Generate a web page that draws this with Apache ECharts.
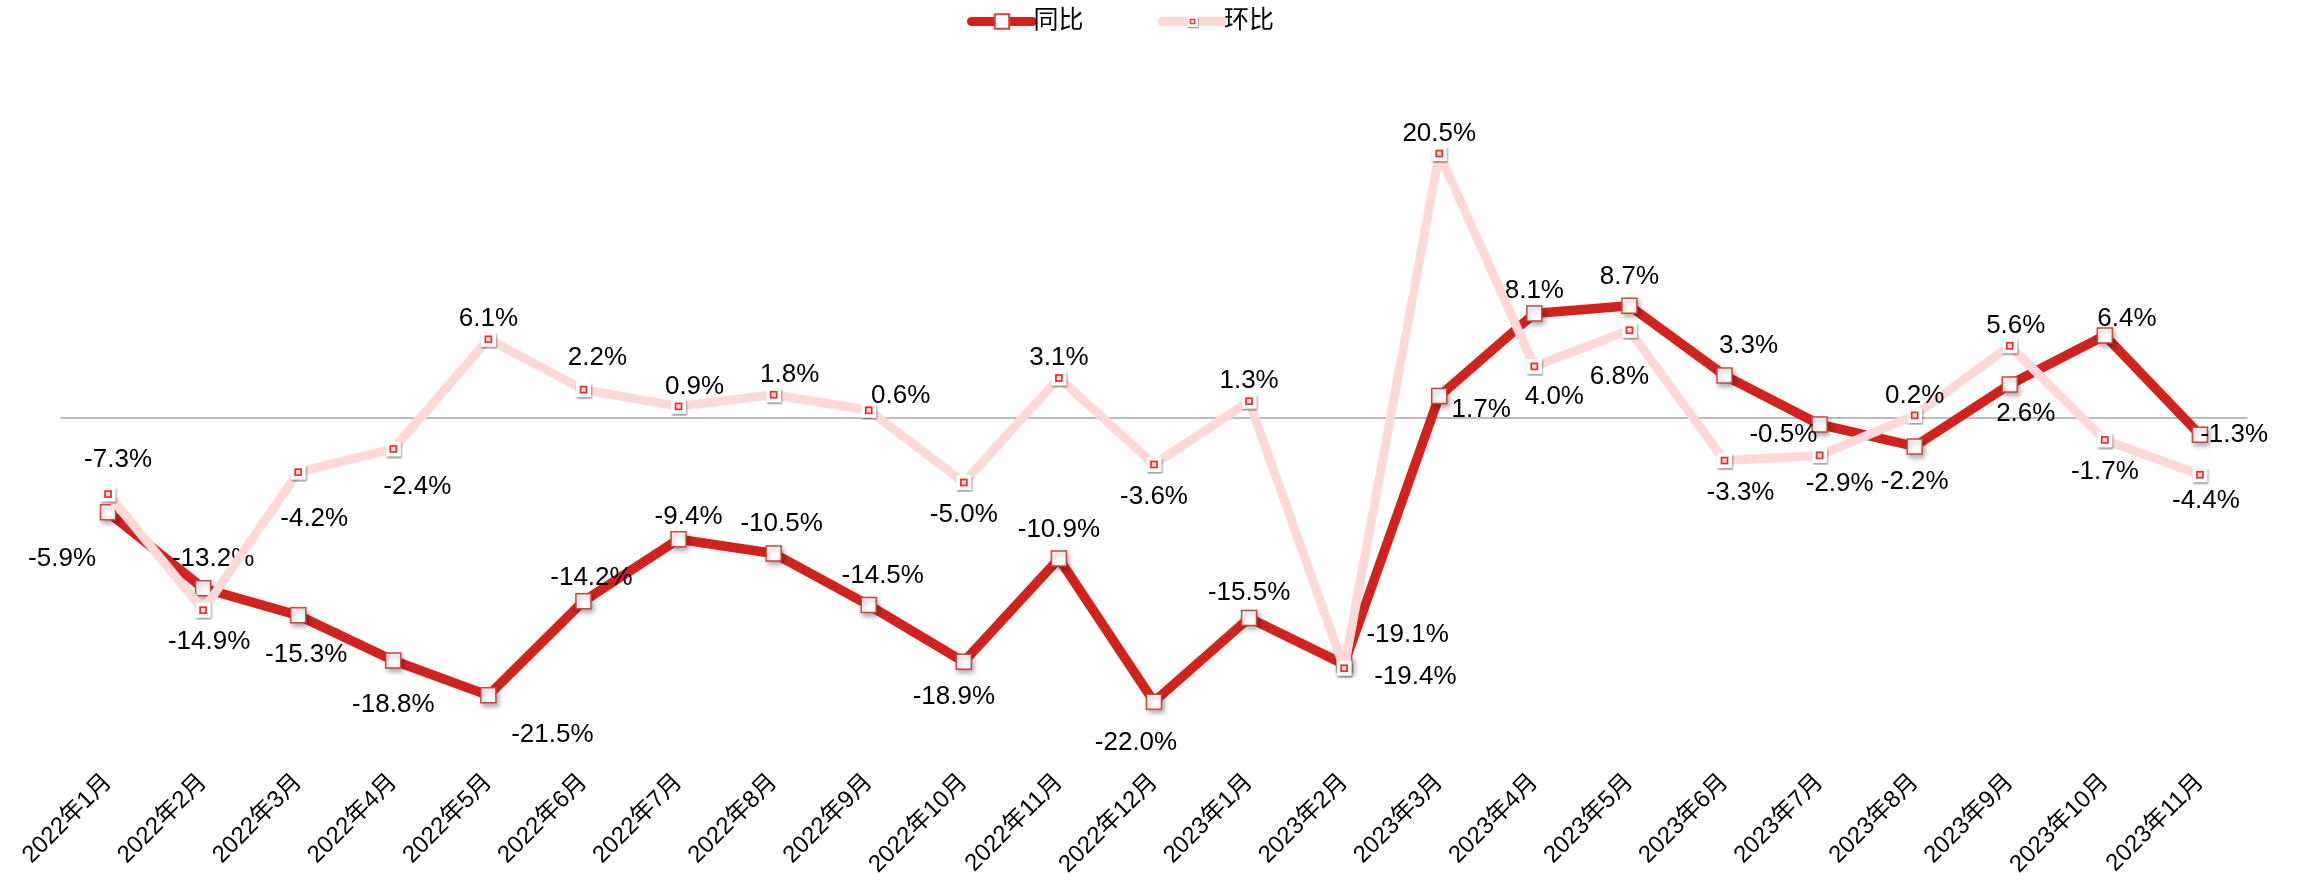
<!DOCTYPE html>
<html>
<head>
<meta charset="utf-8">
<script src="https://cdn.jsdelivr.net/npm/echarts@6/dist/echarts.min.js"></script>
<style>
html,body{margin:0;padding:0;background:#fff;}
#chart{width:2297px;height:884px;}
</style>
</head>
<body>
<div id="chart"></div>
<script>
const categories = ['2022年1月','2022年2月','2022年3月','2022年4月','2022年5月','2022年6月','2022年7月','2022年8月','2022年9月','2022年10月','2022年11月','2022年12月','2023年1月','2023年2月','2023年3月','2023年4月','2023年5月','2023年6月','2023年7月','2023年8月','2023年9月','2023年10月','2023年11月'];
const seriesNames = ['同比','环比'];
const yoy = [-7.3,-13.2,-15.3,-18.8,-21.5,-14.2,-9.4,-10.5,-14.5,-18.9,-10.9,-22.0,-15.5,-19.1,1.7,8.1,8.7,3.3,-0.5,-2.2,2.6,6.4,-1.3];
const mom = [-5.9,-14.9,-4.2,-2.4,6.1,2.2,0.9,1.8,0.6,-5.0,3.1,-3.6,1.3,-19.4,20.5,4.0,6.8,-3.3,-2.9,0.2,5.6,-1.7,-4.4];

// label placement (layout only)
const yoyLabelPos = ['top','top','bottom','bottom','bottom','top','top','top','top','bottom','top','bottom','top','right','right','top','top','top','left','bottom','bottom','top','right'];
const momLabelPos = ['left','bottom','bottom','bottom','top','top','top','top','top','bottom','top','bottom','top','right','top','bottom','bottom','bottom','bottom','top','top','bottom','bottom'];
const yoyLabelOffset = {0:[10,-23],1:[10,0],2:[8,10],3:[0,15],4:[64,10],5:[8,6],6:[10,7],7:[8,0],8:[14,0],9:[-10,6],11:[-18,12],12:[0,4],13:[6,-30],14:[-4,14],15:[0,7],17:[24,0],18:[14,10],19:[0,6],20:[16,0],21:[22,13],22:[-16,0]};
const momLabelOffset = {0:[6,65],1:[6,0],2:[16,15],3:[24,6],5:[14,-12],6:[16,0],7:[16,0],8:[32,6],13:[12,9],15:[20,-2],16:[-10,15],17:[16,0],18:[20,-4],20:[6,0],22:[6,-6]};

const FONT = '"Liberation Sans", Arial, "Noto Sans CJK SC", sans-serif';
const DARK = '#d2221d';
const LIGHT = '#ffd9d7';

const momSvg = '<svg xmlns="http://www.w3.org/2000/svg" width="20" height="20" viewBox="0 0 20 20">' +
  '<defs><filter id="b" x="-50%" y="-50%" width="200%" height="200%"><feGaussianBlur stdDeviation="1.1"/></filter></defs>' +
  '<rect x="3.4" y="4.4" width="15" height="15" fill="rgba(0,0,0,0.4)" filter="url(#b)"/>' +
  '<rect x="2.5" y="2.5" width="15" height="15" fill="#ffffff"/>' +
  '<rect x="7" y="7" width="6" height="6" fill="#ffe0e0" stroke="#ee2a2a" stroke-width="1.7"/>' +
  '</svg>';
const momSymbol = 'image://data:image/svg+xml;charset=utf-8,' + encodeURIComponent(momSvg);

function buildData(values, pos, offs, distTop, distBottom) {
  return values.map((v, i) => ({
    value: v,
    label: { position: pos[i], offset: offs[i] || [0, 0], distance: pos[i] === 'top' ? distTop : (pos[i] === 'bottom' ? distBottom : 8) }
  }));
}

const chart = echarts.init(document.getElementById('chart'));
chart.setOption({
  animation: false,
  backgroundColor: '#ffffff',
  legend: {
    left: 962,
    top: 4,
    itemWidth: 61,
    itemHeight: 18,
    itemGap: 74,
    lineStyle: { width: 9, cap: 'round' },
    textStyle: { fontSize: 25, color: '#000', fontFamily: FONT, padding: [0, 0, 0, -4] },
    data: seriesNames
  },
  grid: { left: 60.5, right: 49.5, top: 95.5, bottom: 117.7, containLabel: false },
  xAxis: {
    type: 'category',
    data: categories,
    boundaryGap: true,
    axisLine: { show: false },
    axisTick: { show: false },
    axisLabel: { interval: 0, rotate: 45, fontSize: 24, color: '#000', fontFamily: FONT, margin: 12 }
  },
  yAxis: {
    type: 'value',
    min: -27,
    max: 25,
    interval: 27,
    axisLine: { show: false },
    axisTick: { show: false },
    axisLabel: { show: false },
    splitLine: { show: true, lineStyle: { color: ['rgba(0,0,0,0)', '#a6a6a6'], width: 1.5 } }
  },
  series: [
    {
      name: seriesNames[0],
      type: 'line',
      data: buildData(yoy, yoyLabelPos, yoyLabelOffset, 8, 8),
      symbol: 'rect',
      symbolSize: 15,
      showAllSymbol: true,
      lineStyle: { color: DARK, width: 9.5 },
      itemStyle: { color: '#ffffff', borderColor: '#cc4640', borderWidth: 1.5, shadowBlur: 5, shadowColor: 'rgba(0,0,0,0.35)', shadowOffsetX: 2, shadowOffsetY: 3 },
      label: { show: true, fontSize: 26, color: '#000', fontFamily: FONT, formatter: p => p.value.toFixed(1) + '%' },
      z: 2
    },
    {
      name: seriesNames[1],
      type: 'line',
      data: buildData(mom, momLabelPos, momLabelOffset, -3, 9),
      symbol: momSymbol,
      symbolSize: 20,
      showAllSymbol: true,
      lineStyle: { color: LIGHT, width: 9 },
      itemStyle: { color: LIGHT },
      label: { show: true, fontSize: 26, color: '#000', fontFamily: FONT, formatter: p => p.value.toFixed(1) + '%' },
      z: 3
    }
  ]
});
</script>
</body>
</html>
